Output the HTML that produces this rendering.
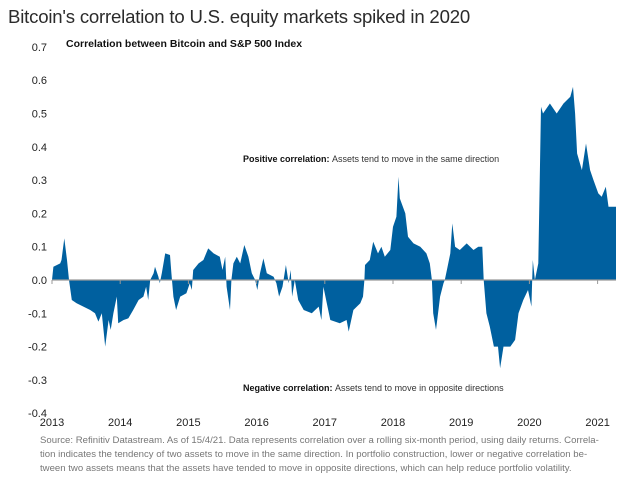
<!DOCTYPE html>
<html><head><meta charset="utf-8">
<style>
body{margin:0;background:#fff;font-family:"Liberation Sans",sans-serif;}
#wrap{position:relative;width:644px;height:486px;overflow:hidden;}
.t{position:absolute;white-space:nowrap;}
</style></head><body>
<div id="wrap">
<div class="t" style="left:8px;top:6px;font-size:18.6px;color:#2b2b2b;letter-spacing:-0.2px;">Bitcoin's correlation to U.S. equity markets spiked in 2020</div>
<div class="t" style="left:66px;top:38px;font-size:10.5px;font-weight:bold;color:#111;">Correlation between Bitcoin and S&amp;P 500 Index</div>
<svg id="chart" width="644" height="486" style="position:absolute;left:0;top:0"></svg>
<div class="t" style="left:40px;top:434px;font-size:9.6px;line-height:14px;color:#777;white-space:normal;width:600px;">Source: Refinitiv Datastream. As of 15/4/21. Data represents correlation over a rolling six-month period, using daily returns. Correla-<br>tion indicates the tendency of two assets to move in the same direction. In portfolio construction, lower or negative correlation be-<br>tween two assets means that the assets have tended to move in opposite directions, which can help reduce portfolio volatility.</div>
</div>
<script>
const dates=[
2013.00,2013.02,2013.12,2013.14,2013.18,2013.22,2013.25,2013.29,2013.36,2013.46,
2013.56,2013.63,2013.68,2013.73,2013.78,2013.83,2013.86,2013.90,2013.95,2013.97,
2014.05,2014.12,2014.19,2014.27,2014.34,2014.38,2014.41,2014.44,2014.49,2014.51,
2014.56,2014.58,2014.61,2014.66,2014.73,2014.75,2014.78,2014.82,2014.88,2014.97,
2015.02,2015.05,2015.07,2015.15,2015.22,2015.29,2015.37,2015.46,2015.50,2015.54,
2015.56,2015.61,2015.63,2015.66,2015.71,2015.76,2015.82,2015.88,2015.93,2015.98,
2016.01,2016.05,2016.10,2016.15,2016.25,2016.29,2016.33,2016.38,2016.43,2016.47,
2016.50,2016.52,2016.56,2016.61,2016.69,2016.81,2016.91,2016.95,2016.98,2017.03,
2017.08,2017.22,2017.32,2017.35,2017.42,2017.52,2017.56,2017.58,2017.59,2017.66,
2017.71,2017.78,2017.83,2017.88,2017.96,2018.00,2018.05,2018.08,2018.10,2018.18,
2018.22,2018.30,2018.40,2018.49,2018.54,2018.57,2018.59,2018.63,2018.69,2018.74,
2018.76,2018.79,2018.84,2018.87,2018.91,2018.98,2019.08,2019.18,2019.25,2019.31,
2019.33,2019.37,2019.42,2019.48,2019.54,2019.57,2019.62,2019.72,2019.79,2019.84,
2019.91,2019.98,2020.01,2020.03,2020.05,2020.08,2020.13,2020.17,2020.20,2020.30,
2020.40,2020.50,2020.60,2020.64,2020.67,2020.70,2020.77,2020.83,2020.89,2020.94,
2021.01,2021.06,2021.12,2021.16,2021.23,2021.27];
const values=[
0,0.04,0.05,0.06,0.125,0.06,0,-0.06,-0.07,-0.08,
-0.09,-0.10,-0.125,-0.10,-0.20,-0.12,-0.15,-0.10,-0.05,-0.13,
-0.12,-0.115,-0.09,-0.06,-0.05,-0.02,-0.06,0,0.02,0.04,
0.01,-0.01,0.02,0.08,0.075,0.02,-0.05,-0.09,-0.05,-0.04,
-0.01,-0.03,0.03,0.05,0.06,0.095,0.08,0.07,0.03,0.07,
-0.02,-0.09,0,0.05,0.07,0.05,0.105,0.07,0.02,0,
-0.03,0.02,0.065,0.02,0.01,-0.01,-0.05,-0.02,0.045,-0.01,
0.03,-0.05,0,-0.06,-0.09,-0.10,-0.08,-0.12,-0.02,-0.07,
-0.12,-0.13,-0.12,-0.155,-0.09,-0.07,-0.05,0,0.045,0.06,
0.115,0.08,0.10,0.07,0.09,0.16,0.19,0.31,0.245,0.20,
0.13,0.11,0.10,0.08,0.05,0,-0.10,-0.15,-0.05,-0.01,
0,0.03,0.08,0.17,0.10,0.09,0.11,0.09,0.10,0.10,
0,-0.10,-0.14,-0.20,-0.20,-0.265,-0.20,-0.20,-0.18,-0.10,
-0.06,-0.03,-0.06,-0.08,0.06,0,0.05,0.52,0.50,0.53,
0.50,0.53,0.55,0.58,0.50,0.38,0.33,0.41,0.33,0.30,
0.26,0.25,0.28,0.22,0.22,0.22];
const yTicks=[0.7,0.6,0.5,0.4,0.3,0.2,0.1,0,-0.1,-0.2,-0.3,-0.4];
const yTickLabels=["0.7","0.6","0.5","0.4","0.3","0.2","0.1","0.0","-0.1","-0.2","-0.3","-0.4"];
const xTicks=[2013,2014,2015,2016,2017,2018,2019,2020,2021];

const svg=document.getElementById('chart');
const NS='http://www.w3.org/2000/svg';
function xS(d){return 52+(d-2013)*68.2;}
function yS(v){return 280-v*333;}
function mk(tag,attrs){const e=document.createElementNS(NS,tag);for(const k in attrs)e.setAttribute(k,attrs[k]);svg.appendChild(e);return e;}

yTicks.forEach((v,i)=>{
  const t=mk('text',{x:47,y:yS(v)+4,'text-anchor':'end','font-size':'11','fill':'#222','font-family':'Liberation Sans, sans-serif'});
  
  
  t.textContent=yTickLabels[i];
});
xTicks.forEach(d=>{
  const t=mk('text',{x:xS(d),y:426,'text-anchor':'middle','font-size':'11','fill':'#222','font-family':'Liberation Sans, sans-serif'});
  
  
  t.textContent=String(d);
});

const n=Math.min(dates.length,values.length);
let p='M'+xS(dates[0]).toFixed(1)+','+yS(0);
for(let i=0;i<n;i++){p+=' L'+xS(dates[i]).toFixed(1)+','+yS(values[i]).toFixed(1);}
p+=' L'+xS(dates[n-1]).toFixed(1)+','+yS(0)+' Z';
const area=mk('path',{d:p,fill:'#00609f'});



const zl=mk('line',{x1:xS(2013),x2:xS(dates[n-1]),y1:yS(0),y2:yS(0),stroke:'#999','stroke-width':'1.3'});


xTicks.forEach(d=>{
  const tk=mk('line',{x1:xS(d),x2:xS(d),y1:yS(0),y2:yS(0)+4,stroke:'#999','stroke-width':'1'});
  
  
});

function ann(y,b,r,name){
  const t=mk('text',{x:243,y:y,'font-size':'9','fill':'#333','font-family':'Liberation Sans, sans-serif'});
  
  
  const s1=document.createElementNS(NS,'tspan');s1.setAttribute('font-weight','bold');s1.setAttribute('fill','#111');s1.textContent=b;t.appendChild(s1);
  const s2=document.createElementNS(NS,'tspan');s2.textContent=r;t.appendChild(s2);
}
ann(162,'Positive correlation: ','Assets tend to move in the same direction','positive-annotation');
ann(391,'Negative correlation: ','Assets tend to move in opposite directions','negative-annotation');
</script>
</body></html>
